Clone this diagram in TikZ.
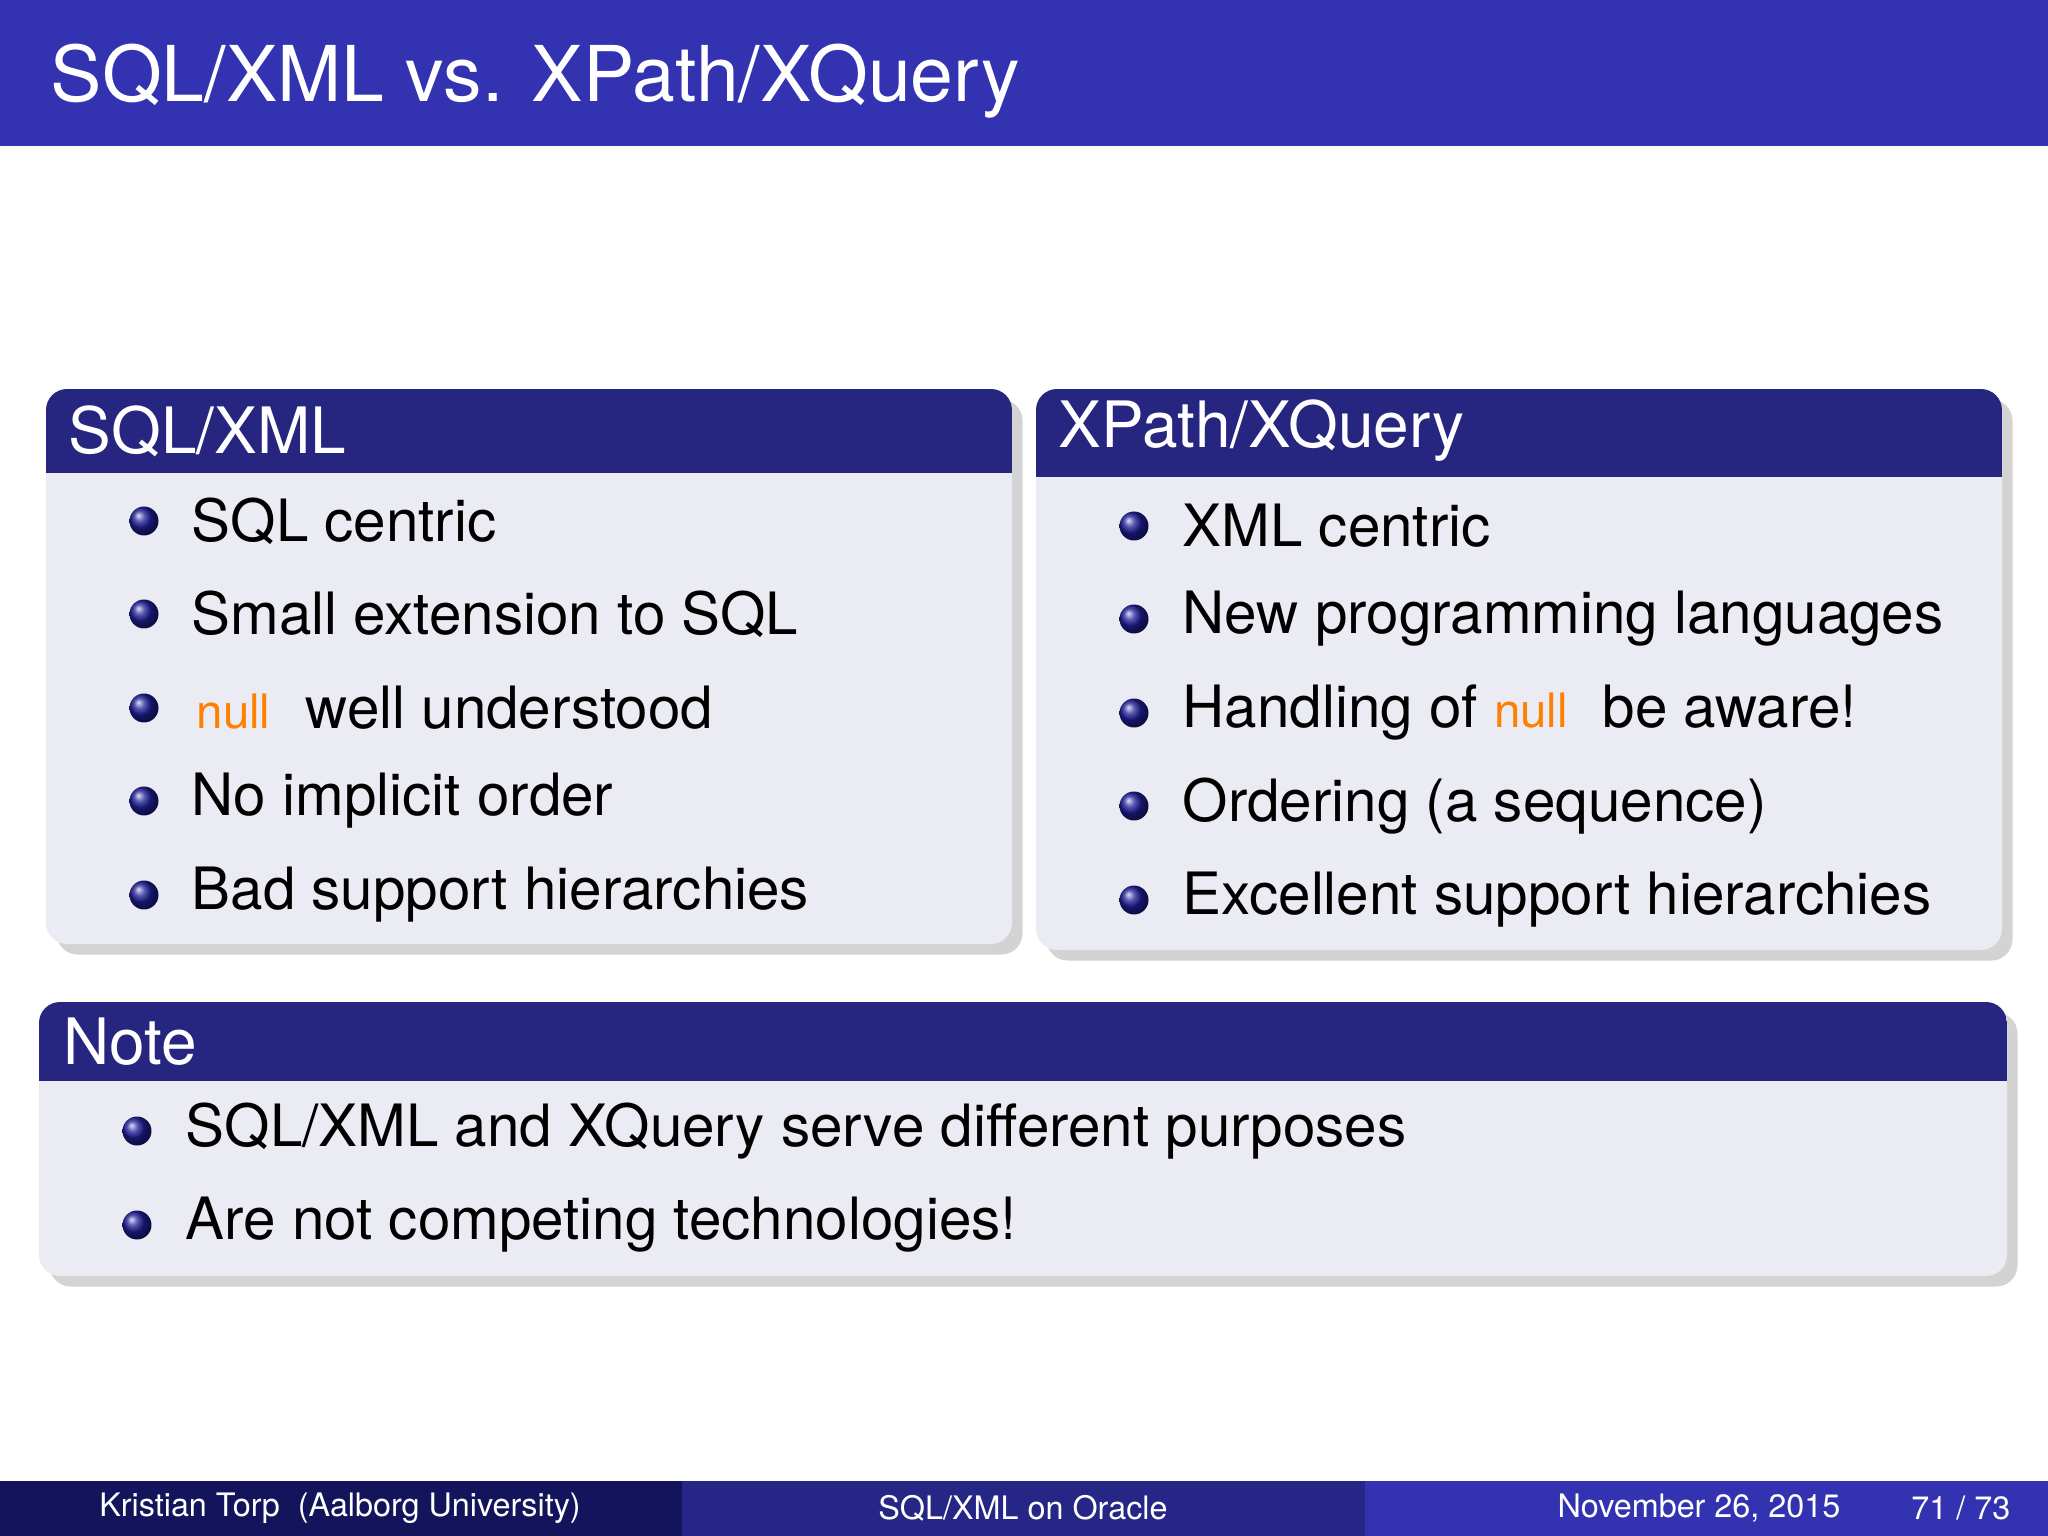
\documentclass[tikz,border=0pt]{standalone}
\usepackage{fontspec}
\setmainfont{TeX Gyre Heros}
\usetikzlibrary{positioning, shadows, calc}
\definecolor{titleblue}{RGB}{51, 51, 178}
\definecolor{blockhead}{RGB}{38, 38, 128}
\definecolor{blockbody}{RGB}{235, 235, 244}
\definecolor{footdark}{RGB}{20, 20, 92}
\definecolor{footmid}{RGB}{38, 38, 134}
\definecolor{nullorange}{RGB}{255, 128, 0}
\newcommand{\nul}{\textcolor{nullorange}{\fontsize{13.5}{15}\selectfont null}\hspace{0.6em}}

\begin{document}
\begin{tikzpicture}[
    panel/.style={fill=blockbody, rounded corners=6pt, drop shadow={opacity=0.35, shadow xshift=3pt, shadow yshift=-3pt}},
    head/.style={fill=blockhead},
    headtext/.style={anchor=west, text=white, font=\fontsize{18.2}{22}\selectfont, inner sep=0pt},
    bullet/.style={circle, inner sep=0pt, minimum size=0.29cm, ball color=blockhead!80!blue},
    item/.style={anchor=west, font=\fontsize{16.6}{20}\selectfont, inner sep=0pt},
    foot/.style={text=white, font=\fontsize{9.2}{11}\selectfont, inner sep=0pt}
]
    \useasboundingbox (0,0) rectangle (20.48,-15.36);

    % Title bar
    \fill[titleblue] (0,0) rectangle (20.48,-1.46);
    \node[anchor=west, text=white, font=\fontsize{21.9}{26}\selectfont, inner sep=0pt] (title) at (0.50,-0.81) {SQL/XML vs. XPath/XQuery};

    % SQL/XML block
    \fill[panel] (0.46,-3.89) rectangle (10.12,-9.44);
    \begin{scope}
        \clip[rounded corners=6pt] (0.46,-3.89) rectangle (10.12,-9.44);
        \fill[head] (0.46,-3.89) rectangle (10.12,-4.73);
    \end{scope}
    \node[headtext] (sqlhead) at (0.68,-4.31) {SQL/XML};
    \node[bullet] (b11) at (1.44,-5.21) {};
    \node[bullet] (b12) at (1.44,-6.14) {};
    \node[bullet] (b13) at (1.44,-7.08) {};
    \node[bullet] (b14) at (1.44,-8.01) {};
    \node[bullet] (b15) at (1.44,-8.95) {};
    \node[item] (s1) at (1.91,-5.21) {SQL centric};
    \node[item] (s2) at (1.91,-6.14) {Small extension to SQL};
    \node[item] (s3) at (1.96,-7.08) {\nul well understood};
    \node[item] (s4) at (1.91,-8.01) {No implicit order};
    \node[item] (s5) at (1.91,-8.95) {Bad support hierarchies};

    % XPath/XQuery block
    \fill[panel] (10.36,-3.89) rectangle (20.02,-9.50);
    \begin{scope}
        \clip[rounded corners=6pt] (10.36,-3.89) rectangle (20.02,-9.50);
        \fill[head] (10.36,-3.89) rectangle (20.02,-4.77);
    \end{scope}
    \node[headtext] (xqhead) at (10.58,-4.31) {XPath/XQuery};
    \node[bullet] (b21) at (11.34,-5.26) {};
    \node[bullet] (b22) at (11.34,-6.19) {};
    \node[bullet] (b23) at (11.34,-7.13) {};
    \node[bullet] (b24) at (11.34,-8.06) {};
    \node[bullet] (b25) at (11.34,-9.00) {};
    \node[item] (x1) at (11.82,-5.26) {XML centric};
    \node[item] (x2) at (11.82,-6.19) {New programming languages};
    \node[item] (x3) at (11.82,-7.13) {Handling of \nul be aware!};
    \node[item] (x4) at (11.82,-8.06) {Ordering (a sequence)};
    \node[item] (x5) at (11.82,-9.00) {Excellent support hierarchies};

    % Note block
    \fill[panel] (0.39,-10.02) rectangle (20.07,-12.76);
    \begin{scope}
        \clip[rounded corners=6pt] (0.39,-10.02) rectangle (20.07,-12.76);
        \fill[head] (0.39,-10.02) rectangle (20.07,-10.81);
    \end{scope}
    \node[headtext] (notehead) at (0.63,-10.42) {Note};
    \node[bullet] (b31) at (1.37,-11.31) {};
    \node[bullet] (b32) at (1.37,-12.25) {};
    \node[item] (n1) at (1.85,-11.31) {SQL/XML and XQuery serve different purposes};
    \node[item] (n2) at (1.85,-12.25) {Are not competing technologies!};

    % Footer
    \fill[footdark] (0,-14.81) rectangle (6.82,-15.36);
    \fill[footmid] (6.82,-14.81) rectangle (13.65,-15.36);
    \fill[titleblue] (13.65,-14.81) rectangle (20.48,-15.36);
    \node[foot] (author) at (3.40,-15.08) {Kristian Torp\ \ (Aalborg University)};
    \node[foot] (talk) at (10.23,-15.08) {SQL/XML on Oracle};
    \node[foot, anchor=east] (date) at (18.41,-15.08) {November 26, 2015};
    \node[foot, anchor=east] (page) at (20.11,-15.08) {71 / 73};
\end{tikzpicture}
\end{document}
